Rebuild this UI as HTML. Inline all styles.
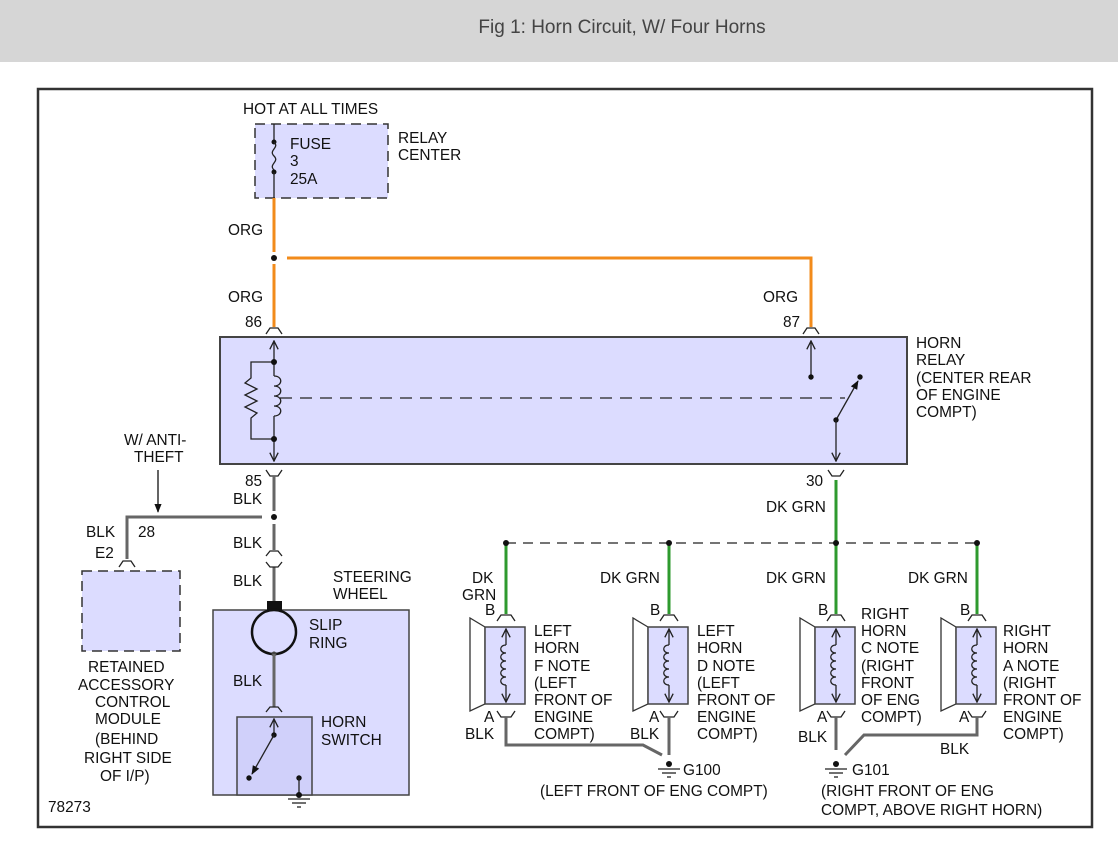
<!DOCTYPE html>
<html><head><meta charset="utf-8"><style>
html,body{margin:0;padding:0;background:#fff;}
svg{display:block;font-family:"Liberation Sans",Arial,sans-serif;}
text{font-size:15.4px;fill:#111;}
</style></head><body>
<svg width="1118" height="843" viewBox="0 0 1118 843" xmlns="http://www.w3.org/2000/svg">
<defs>
<marker id="ar" viewBox="0 0 10 10" refX="9" refY="5" markerWidth="8" markerHeight="8" orient="auto-start-reverse"><path d="M1,1 L9,5 L1,9" fill="none" stroke="#222" stroke-width="1.3"/></marker>
<marker id="af" viewBox="0 0 10 10" refX="9" refY="5" markerWidth="7" markerHeight="7" orient="auto"><path d="M0,1 L10,5 L0,9 z" fill="#111"/></marker>
</defs>
<rect x="0" y="0" width="1118" height="62" fill="#d6d6d6"/>
<text x="622" y="33" text-anchor="middle" style="font-size:19px;fill:#444">Fig 1: Horn Circuit, W/ Four Horns</text>
<rect x="38" y="89" width="1054" height="738" fill="#fff" stroke="#333" stroke-width="2.5"/>

<!-- fuse -->
<rect x="255" y="124" width="133" height="74" fill="#dcdcff" stroke="#333" stroke-width="1.5" stroke-dasharray="10,6"/>
<line x1="274" y1="124" x2="274" y2="142" stroke="#222" stroke-width="1.3"/>
<circle cx="274" cy="142" r="2.5" fill="#111"/>
<path d="M274,142 C280,148 268,150 274,156 C280,162 268,164 274,170" fill="none" stroke="#222" stroke-width="1.3"/>
<circle cx="274" cy="172" r="2.5" fill="#111"/>
<line x1="274" y1="172" x2="274" y2="198" stroke="#222" stroke-width="1.3"/>
<text x="243" y="114">HOT AT ALL TIMES</text>
<text x="290" y="149">FUSE</text><text x="290" y="166">3</text><text x="290" y="184">25A</text>
<text x="398" y="143">RELAY</text><text x="398" y="160">CENTER</text>

<!-- orange -->
<g stroke="#f28b1b" stroke-width="3" fill="none">
<line x1="274" y1="198" x2="274" y2="252"/>
<line x1="274" y1="264" x2="274" y2="327"/>
<polyline points="287,258 811,258 811,327"/>
</g>
<circle cx="274" cy="258" r="3" fill="#111"/>
<text x="228" y="235">ORG</text><text x="228" y="302">ORG</text><text x="763" y="302">ORG</text>
<text x="245" y="327">86</text><text x="783" y="327">87</text>
<path d="M266,334 L270,328 L278,328 L282,334" fill="none" stroke="#222" stroke-width="1.3"/>
<path d="M803,334 L807,328 L815,328 L819,334" fill="none" stroke="#222" stroke-width="1.3"/>

<!-- relay -->
<rect x="220" y="337" width="687" height="127" fill="#dcdcff" stroke="#444" stroke-width="2"/>
<line x1="274" y1="362" x2="274" y2="341" stroke="#222" stroke-width="1.3" marker-end="url(#ar)"/>
<line x1="274" y1="439" x2="274" y2="461" stroke="#222" stroke-width="1.3" marker-end="url(#ar)"/>
<line x1="274" y1="362" x2="274" y2="376" stroke="#222" stroke-width="1.3"/>
<path d="M274,376 C283,376 283,386 274,386 C283,386 283,396 274,396 C283,396 283,406 274,406 C283,406 283,416 274,416" fill="none" stroke="#222" stroke-width="1.3"/>
<line x1="274" y1="416" x2="274" y2="439" stroke="#222" stroke-width="1.3"/>
<polyline points="274,362 251,362 251,378 245,383 257,389 245,395 257,401 245,407 257,413 251,418 251,439 274,439" fill="none" stroke="#222" stroke-width="1.3"/>
<circle cx="274" cy="362" r="3" fill="#111"/><circle cx="274" cy="439" r="3" fill="#111"/>
<line x1="280" y1="398" x2="845" y2="398" stroke="#222" stroke-width="1.2" stroke-dasharray="12,8"/>
<line x1="811" y1="377" x2="811" y2="341" stroke="#222" stroke-width="1.3" marker-end="url(#ar)"/>
<circle cx="811" cy="377" r="2.7" fill="#111"/>
<line x1="836" y1="420" x2="858" y2="381" stroke="#222" stroke-width="1.3" marker-end="url(#af)"/>
<circle cx="860" cy="377" r="2.7" fill="#111"/><circle cx="836" cy="420" r="2.7" fill="#111"/>
<line x1="836" y1="420" x2="836" y2="461" stroke="#222" stroke-width="1.3" marker-end="url(#ar)"/>
<text x="916" y="348">HORN</text><text x="916" y="365">RELAY</text><text x="916" y="383">(CENTER REAR</text><text x="916" y="400">OF ENGINE</text><text x="916" y="417">COMPT)</text>

<!-- 85 side -->
<path d="M266,470 L270,476 L278,476 L282,470" fill="none" stroke="#222" stroke-width="1.3"/>
<path d="M828,470 L832,476 L840,476 L844,470" fill="none" stroke="#222" stroke-width="1.3"/>
<text x="245" y="486">85</text><text x="233" y="504">BLK</text>
<text x="806" y="486">30</text><text x="766" y="512">DK GRN</text>
<g stroke="#666" stroke-width="3" fill="none">
<line x1="274" y1="476" x2="274" y2="511"/>
<line x1="274" y1="524" x2="274" y2="550"/>
<line x1="274" y1="567" x2="274" y2="604"/>
<polyline points="262,517 127,517 127,559"/>
</g>
<circle cx="274" cy="517" r="3" fill="#111"/>
<path d="M266,556 L270,551 L278,551 L282,556" fill="none" stroke="#222" stroke-width="1.3"/>
<path d="M266,562 L270,567 L278,567 L282,562" fill="none" stroke="#222" stroke-width="1.3"/>
<path d="M119,567 L123,561 L131,561 L135,567" fill="none" stroke="#222" stroke-width="1.3"/>
<line x1="158" y1="470" x2="158" y2="512" stroke="#111" stroke-width="1.3" marker-end="url(#af)"/>
<text x="124" y="445">W/ ANTI-</text><text x="134" y="462">THEFT</text>
<text x="86" y="537">BLK</text><text x="138" y="537">28</text><text x="95" y="558">E2</text>
<text x="233" y="548">BLK</text><text x="233" y="586">BLK</text>
<rect x="82" y="571" width="98" height="80" fill="#dcdcff" stroke="#333" stroke-width="1.5" stroke-dasharray="10,6"/>
<text x="88" y="672">RETAINED</text><text x="78" y="690">ACCESSORY</text><text x="95" y="707">CONTROL</text><text x="95" y="724">MODULE</text><text x="95" y="744">(BEHIND</text><text x="84" y="763">RIGHT SIDE</text><text x="100" y="781">OF I/P)</text>

<!-- steering wheel -->
<rect x="213" y="610" width="196" height="185" fill="#dcdcff" stroke="#444" stroke-width="1.5"/>
<text x="333" y="582">STEERING</text><text x="333" y="599">WHEEL</text>
<rect x="267" y="601" width="15" height="10" fill="#111"/>
<circle cx="274" cy="632" r="22" fill="none" stroke="#111" stroke-width="2.5"/>
<circle cx="274" cy="654" r="2.5" fill="#444"/>
<line x1="274" y1="654" x2="274" y2="707" stroke="#666" stroke-width="3"/>
<path d="M266,712 L270,707 L278,707 L282,712" fill="none" stroke="#222" stroke-width="1.3"/>
<text x="309" y="630">SLIP</text><text x="309" y="648">RING</text>
<text x="233" y="686">BLK</text>
<rect x="237" y="717" width="75" height="78" fill="#d0d0fa" stroke="#444" stroke-width="1.5"/>
<line x1="274" y1="735" x2="274" y2="719" stroke="#222" stroke-width="1.3" marker-end="url(#ar)"/>
<circle cx="274" cy="735" r="2.7" fill="#111"/>
<line x1="274" y1="735" x2="252" y2="774" stroke="#222" stroke-width="1.3" marker-end="url(#af)"/>
<circle cx="249" cy="778" r="2.7" fill="#111"/>
<circle cx="299" cy="778" r="2.7" fill="#111"/>
<line x1="299" y1="778" x2="299" y2="795" stroke="#222" stroke-width="1.3"/>
<circle cx="299" cy="795" r="3" fill="#111"/>
<line x1="288" y1="799" x2="310" y2="799" stroke="#222" stroke-width="1.3"/>
<line x1="292" y1="803" x2="306" y2="803" stroke="#222" stroke-width="1.3"/>
<line x1="297" y1="807" x2="301" y2="807" stroke="#222" stroke-width="1.3"/>
<text x="321" y="727">HORN</text><text x="321" y="745">SWITCH</text>
<text x="48" y="812">78273</text>

<!-- green bus -->
<line x1="836" y1="480" x2="836" y2="543" stroke="#2e9a2e" stroke-width="3"/>
<line x1="506" y1="543" x2="977" y2="543" stroke="#222" stroke-width="1.2" stroke-dasharray="10,7"/>
<g stroke="#2e9a2e" stroke-width="3">
<line x1="506" y1="543" x2="506" y2="614"/><line x1="669" y1="543" x2="669" y2="614"/>
<line x1="836" y1="543" x2="836" y2="614"/><line x1="977" y1="543" x2="977" y2="614"/>
</g>
<g fill="#111"><circle cx="506" cy="543" r="3"/><circle cx="669" cy="543" r="3"/><circle cx="836" cy="543" r="3"/><circle cx="977" cy="543" r="3"/></g>

<g id="h1" transform="translate(506,0)">
<polygon points="-21,627 -36,618 -36,711 -21,704" fill="#fff" stroke="#333" stroke-width="1.3"/>
<rect x="-21" y="627" width="40" height="77" fill="#dcdcff" stroke="#444" stroke-width="1.5"/>
<path d="M-9,621 L-5,615 L5,615 L9,621" fill="none" stroke="#222" stroke-width="1.3"/>
<path d="M-9,711 L-5,717 L5,717 L9,711" fill="none" stroke="#222" stroke-width="1.3"/>
<line x1="0" y1="645" x2="0" y2="629" stroke="#222" stroke-width="1.3" marker-end="url(#ar)"/>
<path d="M0,645 C-7,645 -7,653 0,653 C-7,653 -7,661 0,661 C-7,661 -7,669 0,669 C-7,669 -7,677 0,677 C-7,677 -7,685 0,685" fill="none" stroke="#222" stroke-width="1.3"/>
<line x1="0" y1="685" x2="0" y2="702" stroke="#222" stroke-width="1.3" marker-end="url(#ar)"/>
</g>
<use href="#h1" transform="translate(163,0)"/>
<use href="#h1" transform="translate(330,0)"/>
<use href="#h1" transform="translate(471,0)"/>

<text x="472" y="583">DK</text><text x="462" y="600">GRN</text>
<text x="600" y="583">DK GRN</text><text x="766" y="583">DK GRN</text><text x="908" y="583">DK GRN</text>
<text x="485" y="615">B</text><text x="650" y="615">B</text><text x="818" y="615">B</text><text x="960" y="615">B</text>
<text x="484" y="722">A</text><text x="649" y="722">A</text><text x="817" y="722">A</text><text x="959" y="722">A</text>
<text x="465" y="739">BLK</text><text x="630" y="739">BLK</text><text x="798" y="742">BLK</text><text x="940" y="754">BLK</text>

<g>
<text x="534" y="636">LEFT</text><text x="534" y="653">HORN</text><text x="534" y="671">F NOTE</text><text x="534" y="688">(LEFT</text><text x="534" y="705">FRONT OF</text><text x="534" y="722">ENGINE</text><text x="534" y="739">COMPT)</text>
<text x="697" y="636">LEFT</text><text x="697" y="653">HORN</text><text x="697" y="671">D NOTE</text><text x="697" y="688">(LEFT</text><text x="697" y="705">FRONT OF</text><text x="697" y="722">ENGINE</text><text x="697" y="739">COMPT)</text>
<text x="861" y="619">RIGHT</text><text x="861" y="636">HORN</text><text x="861" y="653">C NOTE</text><text x="861" y="671">(RIGHT</text><text x="861" y="688">FRONT</text><text x="861" y="705">OF ENG</text><text x="861" y="722">COMPT)</text>
<text x="1003" y="636">RIGHT</text><text x="1003" y="653">HORN</text><text x="1003" y="671">A NOTE</text><text x="1003" y="688">(RIGHT</text><text x="1003" y="705">FRONT OF</text><text x="1003" y="722">ENGINE</text><text x="1003" y="739">COMPT)</text>
</g>

<!-- grounds -->
<g stroke="#666" stroke-width="3" fill="none">
<polyline points="506,717 506,745 643,745 662,755"/>
<line x1="669" y1="717" x2="669" y2="755"/>
<line x1="836" y1="717" x2="836" y2="750"/>
<polyline points="977,717 977,735 864,735 845,755"/>
</g>
<g stroke="#222" stroke-width="1.3">
<line x1="658" y1="769" x2="680" y2="769"/><line x1="662" y1="773" x2="676" y2="773"/><line x1="667" y1="777" x2="671" y2="777"/>
<line x1="825" y1="769" x2="847" y2="769"/><line x1="829" y1="773" x2="843" y2="773"/><line x1="834" y1="777" x2="838" y2="777"/>
</g>
<circle cx="669" cy="764" r="3" fill="#111"/><circle cx="836" cy="764" r="3" fill="#111"/>
<text x="683" y="775">G100</text><text x="852" y="775">G101</text>
<text x="540" y="796">(LEFT FRONT OF ENG COMPT)</text>
<text x="821" y="796">(RIGHT FRONT OF ENG</text><text x="821" y="815">COMPT, ABOVE RIGHT HORN)</text>
</svg>
</body></html>
